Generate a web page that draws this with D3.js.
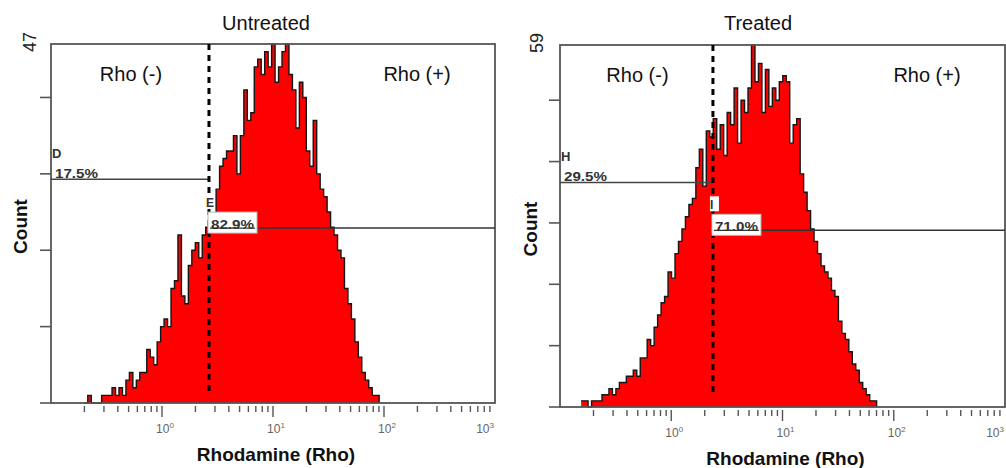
<!DOCTYPE html>
<html>
<head>
<meta charset="utf-8">
<script src="https://cdn.jsdelivr.net/npm/d3@7.9.0/dist/d3.min.js"></script>
<style>
  html, body { margin: 0; padding: 0; background: #fff; }
  svg { display: block; font-family: 'Liberation Sans', Arial, sans-serif; }
</style>
</head>
<body>
<svg id="chart" width="1006" height="468"></svg>
<script>
// ====== Data ======
const panelTitles = ['Untreated', 'Treated'];
const yMaxCounts = [47, 59];
const yTickStep = 10;
const binsPerDecade = 32;
const histStartLog = [-0.70, -0.81];   // log10 of the first channel

const untreatedCounts = [
  0, 1, 0, 0, 0, 1, 1, 1, 2, 1, 2, 1, 3, 4, 2, 3, 4, 4, 7, 6,
  5, 8, 10, 11, 10, 15, 16, 22, 14, 13, 18, 20, 21, 19, 22, 23, 23, 24, 28, 31,
  32, 33, 33, 35, 30, 35, 41, 37, 38, 44, 45, 43, 46, 44, 47, 42, 44, 46, 47, 43,
  41, 36, 42, 40, 33, 31, 37, 30, 28, 27, 25, 23, 22, 20, 19, 15, 13, 11, 8, 6,
  4, 3, 2, 1, 1
];
const treatedCounts = [
  1, 1, 0, 1, 1, 1, 2, 2, 3, 2, 3, 4, 4, 5, 5, 6, 5, 8, 8, 11,
  10, 13, 15, 17, 18, 22, 21, 25, 27, 29, 31, 33, 34, 39, 42, 36, 45, 44, 47, 42,
  46, 41, 48, 46, 52, 43, 50, 48, 52, 59, 53, 56, 48, 55, 49, 52, 50, 53, 54, 53,
  43, 46, 47, 38, 35, 32, 29, 27, 25, 23, 22, 21, 19, 18, 14, 12, 11, 9, 7, 6,
  4, 3, 2, 1, 1
];
const histCounts = [untreatedCounts, treatedCounts];

const xDomain = [0.1, 1000];
const xMajorExponents = [0, 1, 2, 3];
const gateSplitValue = [2.65, 2.37];          // dashed line position (Rho)
const gateNames = [['D', 'E'], ['H', 'I']];
const gatePercents = [['17.5%', '82.9%'], ['29.5%', '71.0%']];
const gateLevels = [[29.3, 22.9], [36.6, 28.8]]; // marker heights (counts)
const regionLabels = ['Rho (-)', 'Rho (+)'];

// ====== Layout ======
const panels = [
  { x0: 51, x1: 495, y0: 44, y1: 403, titleX: 266, countX: 27, maxX: 36 },
  { x0: 560, x1: 1005, y0: 45, y1: 407, titleX: 758, countX: 537, maxX: 543 }
];

const svg = d3.select('#chart');

panels.forEach((p, k) => {
  const g = svg.append('g');
  const x = d3.scaleLog().domain(xDomain).range([p.x0, p.x1]);
  const y = d3.scaleLinear().domain([0, yMaxCounts[k]]).range([p.y1, p.y0]);

  // ---- histogram (stepped) ----
  const counts = histCounts[k];
  const pts = counts.map((c, i) => ({ lx: histStartLog[k] + i / binsPerDecade, c }));
  pts.push({ lx: histStartLog[k] + counts.length / binsPerDecade, c: 0 });

  const area = d3.area()
    .x(d => x(Math.pow(10, d.lx)))
    .y0(y(0))
    .y1(d => y(d.c))
    .curve(d3.curveStepAfter);
  const line = d3.line()
    .x(d => x(Math.pow(10, d.lx)))
    .y(d => y(d.c))
    .curve(d3.curveStepAfter);

  g.append('path').attr('d', area(pts)).attr('fill', '#ff0000');
  g.append('path').attr('d', line(pts))
    .attr('fill', 'none').attr('stroke', '#151515').attr('stroke-width', 1.4);

  // ---- frame ----
  g.append('rect')
    .attr('x', p.x0).attr('y', p.y0)
    .attr('width', p.x1 - p.x0).attr('height', p.y1 - p.y0)
    .attr('fill', 'none').attr('stroke', '#555').attr('stroke-width', 1.8);

  // ---- y ticks ----
  const yTicks = d3.range(0, yMaxCounts[k], yTickStep);
  g.selectAll('.ytick').data(yTicks).join('line')
    .attr('x1', p.x0 - 11).attr('x2', p.x0)
    .attr('y1', d => y(d)).attr('y2', d => y(d))
    .attr('stroke', '#555').attr('stroke-width', 1.6);

  g.append('text')
    .attr('transform', `translate(${p.maxX},${p.y0 - 2}) rotate(-90)`)
    .attr('text-anchor', 'middle')
    .attr('font-size', 18).attr('fill', '#222')
    .text(yMaxCounts[k]);

  // ---- x ticks (log) ----
  const minor = [];
  for (let e = -1; e < 3; e++) {
    for (let m = 2; m <= 9; m++) minor.push(m * Math.pow(10, e));
  }
  g.selectAll('.xminor').data(minor).join('line')
    .attr('x1', d => x(d)).attr('x2', d => x(d))
    .attr('y1', p.y1 + 3).attr('y2', p.y1 + 9)
    .attr('stroke', '#555').attr('stroke-width', 1.4);
  g.selectAll('.xmajor').data(xMajorExponents.slice(0, 3)).join('line')
    .attr('x1', d => x(Math.pow(10, d))).attr('x2', d => x(Math.pow(10, d)))
    .attr('y1', p.y1 + 3).attr('y2', p.y1 + 14)
    .attr('stroke', '#555').attr('stroke-width', 1.4);

  xMajorExponents.forEach((e, i) => {
    const last = i === xMajorExponents.length - 1;
    const t = g.append('text')
      .attr('x', last ? p.x1 - 1 : x(Math.pow(10, e)) + 3)
      .attr('y', p.y1 + 30)
      .attr('text-anchor', last ? 'end' : 'middle')
      .attr('font-size', 12).attr('fill', '#666');
    t.append('tspan').text('10');
    t.append('tspan').attr('dy', -5).attr('font-size', 8).text(e);
  });

  // ---- axis titles ----
  g.append('text')
    .attr('x', (p.x0 + p.x1) / 2 + 3).attr('y', p.y1 + 58)
    .attr('text-anchor', 'middle')
    .attr('font-size', 19).attr('font-weight', 'bold').attr('fill', '#111')
    .text('Rhodamine (Rho)');
  g.append('text')
    .attr('transform', `translate(${p.countX},${(p.y0 + p.y1) / 2 + 3}) rotate(-90)`)
    .attr('text-anchor', 'middle')
    .attr('font-size', 19).attr('font-weight', 'bold').attr('fill', '#111')
    .text('Count');
  g.append('text')
    .attr('x', p.titleX).attr('y', 30)
    .attr('text-anchor', 'middle')
    .attr('font-size', 20).attr('fill', '#111')
    .text(panelTitles[k]);

  // ---- region labels ----
  const split = x(gateSplitValue[k]);
  g.append('text')
    .attr('x', (p.x0 + split) / 2 + 1).attr('y', p.y0 + 37)
    .attr('text-anchor', 'middle').attr('font-size', 20).attr('fill', '#111')
    .text(regionLabels[0]);
  g.append('text')
    .attr('x', p.x1 - 78).attr('y', p.y0 + 37)
    .attr('text-anchor', 'middle').attr('font-size', 20).attr('fill', '#111')
    .text(regionLabels[1]);

  // ---- gate markers ----
  const yl = y(gateLevels[k][0]);
  const yr = y(gateLevels[k][1]);
  g.append('line')
    .attr('x1', p.x0).attr('x2', split).attr('y1', yl).attr('y2', yl)
    .attr('stroke', '#444').attr('stroke-width', 1.5);
  g.append('line')
    .attr('x1', split - 2).attr('x2', p.x1).attr('y1', yr).attr('y2', yr)
    .attr('stroke', '#333').attr('stroke-width', 1.5);

  // dashed split line
  g.append('line')
    .attr('x1', split).attr('x2', split)
    .attr('y1', p.y0).attr('y2', p.y1 - 12)
    .attr('stroke', '#000').attr('stroke-width', 3)
    .attr('stroke-dasharray', '6,5');

  // left gate label
  g.append('text')
    .attr('x', p.x0 + 1).attr('y', yl - 21)
    .attr('font-size', 13).attr('font-weight', 'bold').attr('fill', '#333')
    .text(gateNames[k][0]);
  g.append('text')
    .attr('x', p.x0 + 4).attr('y', yl - 1)
    .attr('font-size', 12).attr('font-weight', 'bold').attr('fill', '#333')
    .attr('textLength', 43).attr('lengthAdjust', 'spacingAndGlyphs')
    .text(gatePercents[k][0]);

  // right gate label (boxed)
  g.append('rect')
    .attr('x', split - 3).attr('y', yr - 34).attr('width', 9).attr('height', 15)
    .attr('fill', '#fff');
  g.append('text')
    .attr('x', split - 3).attr('y', yr - 21)
    .attr('font-size', 12).attr('font-weight', 'bold').attr('fill', '#333')
    .text(gateNames[k][1]);
  g.append('rect')
    .attr('x', split - 1).attr('y', yr - 16).attr('width', 49).attr('height', 21)
    .attr('fill', '#fff').attr('stroke', '#bbb').attr('stroke-width', 1);
  g.append('text')
    .attr('x', split + 2).attr('y', yr + 1)
    .attr('font-size', 12).attr('font-weight', 'bold').attr('fill', '#333')
    .attr('textLength', 43).attr('lengthAdjust', 'spacingAndGlyphs')
    .text(gatePercents[k][1]);
  g.append('line')
    .attr('x1', split + 1).attr('x2', split + 46).attr('y1', yr).attr('y2', yr)
    .attr('stroke', '#333').attr('stroke-width', 1.2);
});
</script>
</body>
</html>
